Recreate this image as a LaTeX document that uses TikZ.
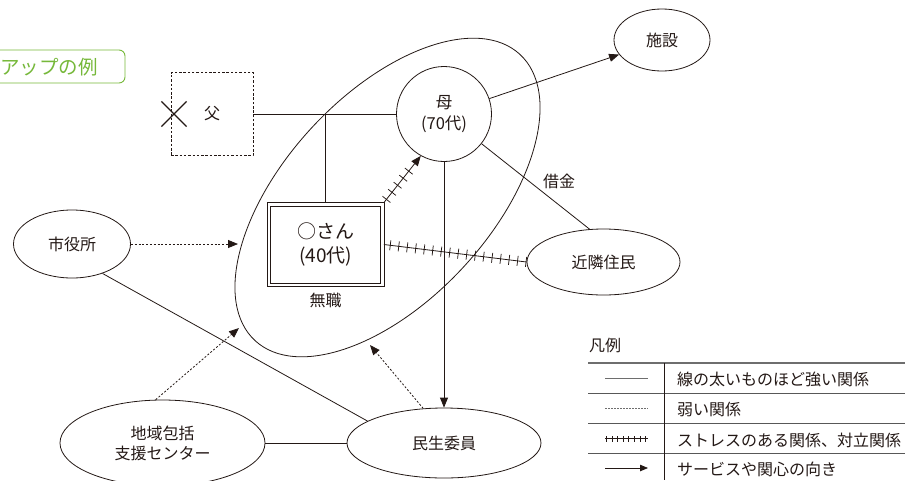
\documentclass[tikz,border=0pt]{standalone}
\usepackage{fontspec}
\setmainfont{Noto Sans CJK JP}
\usetikzlibrary{shapes.geometric,shapes.misc,arrows.meta,decorations.markings}
\definecolor{ink}{RGB}{35,24,21}
\definecolor{ttl}{RGB}{118,184,58}
\definecolor{rulec}{RGB}{110,110,110}
\tikzset{
  lbl/.style={font=\fontsize{16}{20}\selectfont, text=ink, inner sep=0pt},
  oval/.style={draw=ink, ellipse, line width=0.8pt, inner sep=0pt, lbl},
  conn/.style={draw=ink, line width=0.8pt},
  weak/.style={draw=ink, line width=0.8pt, dash pattern=on 2pt off 1.8pt},
  arr/.style={-{Triangle[length=10pt,width=8pt]}},
  stress/.style={postaction={decorate, decoration={markings,
      mark=between positions #1 with {\draw[-, ink, line width=0.75pt, solid] (0,-5pt) -- (0,5pt);}}}},
  smallstress/.style={postaction={decorate, decoration={markings,
      mark=between positions #1 with {\draw[-, ink, line width=0.6pt, solid] (0,-3pt) -- (0,3pt);}}}},
}
\begin{document}
\begin{tikzpicture}[x=1pt,y=-1pt]
\useasboundingbox (0,0) rectangle (905,480);

% title
\draw[ttl, line width=0.9pt, rounded corners=6pt] (-12,50) rectangle (125,83);
\node[anchor=west, inner sep=0pt, text=ttl, font=\fontsize{19.5}{22}\selectfont] (title) at (0,67) {アップの例};

% family boundary
\node[draw=ink, ellipse, line width=0.8pt, minimum width=390, minimum height=206, rotate=47.2, inner sep=0pt] (fam) at (387.5,197.5) {};

% nodes
\node[draw=ink, line width=0.8pt, dash pattern=on 2.5pt off 1.8pt, minimum width=82, minimum height=83, lbl] (fa) at (212,114) {父};
\node[draw=ink, cross out, line width=1.2pt, minimum size=24, inner sep=0pt] (xm) at (174,114) {};
\node[draw=ink, circle, line width=0.8pt, minimum size=95, inner sep=0pt, align=center, text=ink, font=\fontsize{16.5}{20.5}\selectfont] (mo) at (444,114) {母\\(70代)};
\node[draw=ink, line width=0.7pt, minimum width=110, minimum height=77, inner sep=0pt, align=center, text=ink, font=\fontsize{19}{23.5}\selectfont] (san) at (325.5,244.5) {○さん\\(40代)};
\draw[ink, line width=0.7pt] ([shift={(-3pt,3pt)}]san.north west) rectangle ([shift={(3pt,-3pt)}]san.south east);
\node[lbl] (muj) at (325.5,300.5) {無職};
\node[oval, minimum width=96, minimum height=62] (shi) at (662,40) {施設};
\node[oval, minimum width=153, minimum height=66] (kin) at (603.5,262) {近隣住民};
\node[oval, minimum width=117, minimum height=68] (sy) at (72,244) {市役所};
\node[oval, minimum width=205, minimum height=86, align=center] (chi) at (162.5,443) {地域包括\\支援センター};
\node[oval, minimum width=194, minimum height=70] (min) at (444,443) {民生委員};
\node[lbl] (shak) at (559,181) {借金};

\coordinate (famA) at (238,244);
\coordinate (famB) at (239,328);
\coordinate (famC) at (370,345);
\coordinate (sanNE) at ([shift={(3pt,3pt)}]san.north east);
\coordinate (sanE) at ([shift={(3pt,0pt)}]san.east);
\coordinate (sanN) at ([shift={(0pt,3pt)}]san.north);

% connectors
\draw[conn] (fa.east) -- (mo.west);
\draw[conn] (sanN) -- (sanN |- mo.west);
\draw[conn, arr, stress={0.07 and 0.7 step 9pt}] (sanNE) -- (mo.241);
\draw[conn, stress={0.045 and 1 step 8.55pt}] (sanE) -- (kin.west);
\draw[conn, arr] (mo) -- (shi);
\draw[conn] (mo) -- (kin.113);
\draw[conn, arr] (mo.south) -- (min.north);
\draw[weak, arr] (sy) -- (famA);
\draw[conn] (sy.-44) -- (min.164);
\draw[weak, arr] (chi.99) -- (famB);
\draw[conn] (chi.east) -- (min.west);
\draw[weak, arr] (min.121) -- (famC);

% legend
\node[lbl, anchor=west] (lg) at (589,345) {凡例};
\draw[rulec, line width=1.5pt] (588,363) -- (905,363);
\draw[rulec!80!black, line width=1pt] (588,393) -- (905,393);
\draw[rulec!80!black, line width=1pt] (588,423.5) -- (905,423.5);
\draw[rulec!80!black, line width=1pt] (588,453) -- (905,453);
\draw[ink, line width=0.9pt] (664,363) -- (664,480);
\coordinate (l1a) at (605,378); \coordinate (l1b) at (648,378);
\coordinate (l2a) at (605,408); \coordinate (l2b) at (648,408);
\coordinate (l3a) at (605,438.5); \coordinate (l3b) at (648,438.5);
\coordinate (l4a) at (605,468); \coordinate (l4b) at (648,468);
\draw[rulec, line width=1pt] (l1a) -- (l1b);
\draw[rulec, line width=0.8pt, dash pattern=on 1.5pt off 1.5pt] (l2a) -- (l2b);
\draw[ink, line width=0.7pt, smallstress={0.03 and 1 step 5.6pt}] (l3a) -- (l3b);
\draw[ink, line width=0.8pt, -{Triangle[length=8pt,width=6.5pt]}] (l4a) -- (l4b);
\node[lbl, anchor=west] (t1) at (677,379.5) {線の太いものほど強い関係};
\node[lbl, anchor=west] (t2) at (677,409.5) {弱い関係};
\node[lbl, anchor=west] (t3) at (677,440) {ストレスのある関係、対立関係};
\node[lbl, anchor=west] (t4) at (677,469) {サービスや関心の向き};
\end{tikzpicture}
\end{document}
